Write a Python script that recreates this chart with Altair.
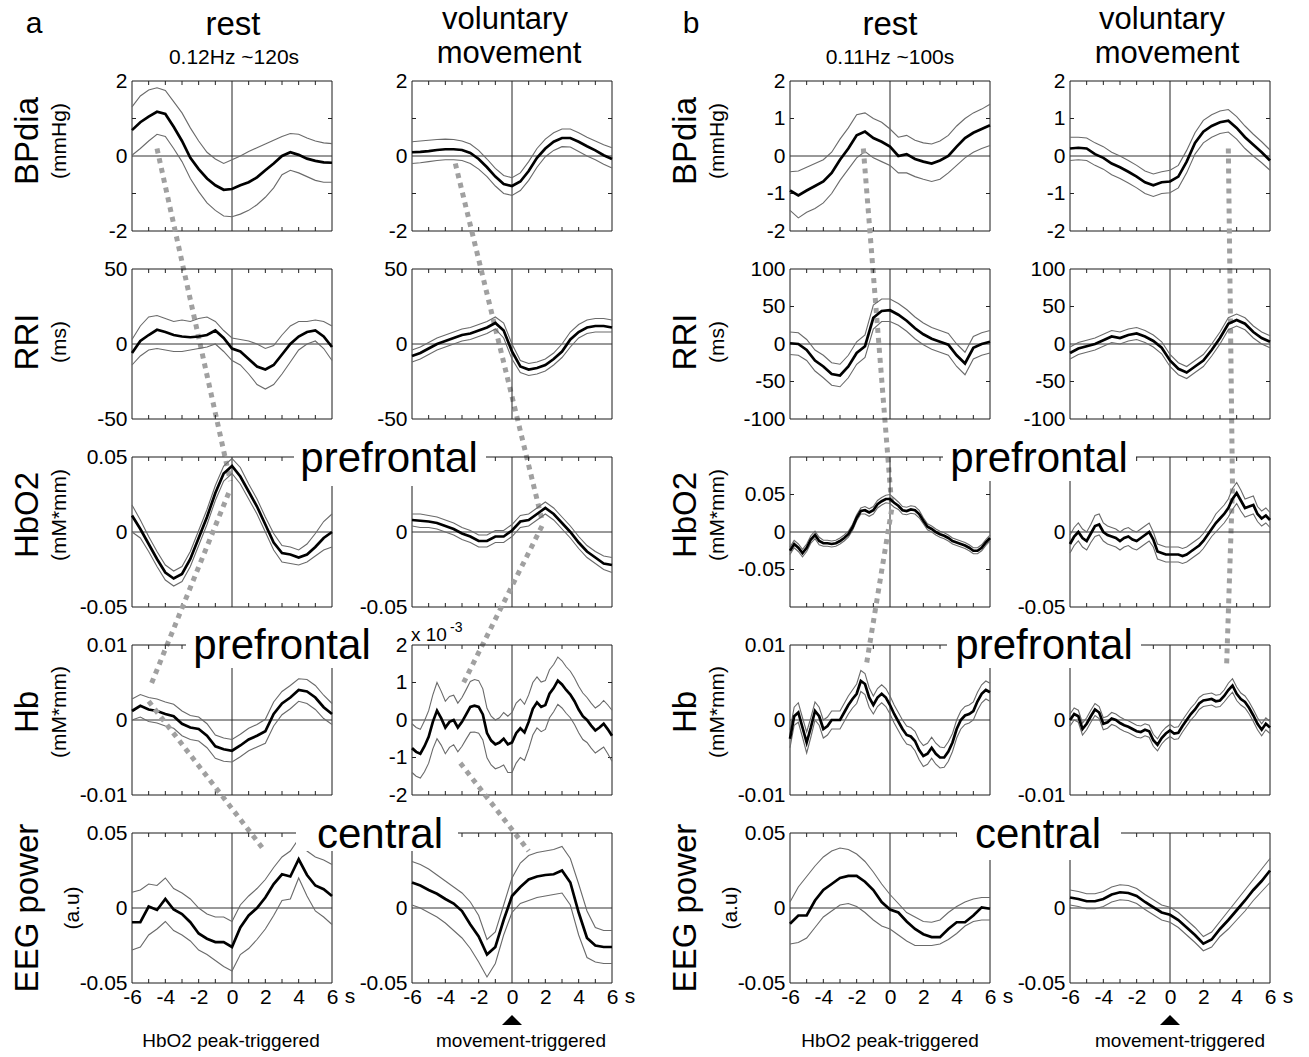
import altair as alt
import pandas as pd

FONT = "Liberation Sans"

# ---------------- time grids (s) ----------------
T25 = [-6, -5.5, -5, -4.5, -4, -3.5, -3, -2.5, -2, -1.5, -1, -0.5, 0,
       0.5, 1, 1.5, 2, 2.5, 3, 3.5, 4, 4.5, 5, 5.5, 6]
T49 = [-6, -5.75, -5.5, -5.25, -5, -4.75, -4.5, -4.25, -4, -3.75, -3.5, -3.25,
       -3, -2.75, -2.5, -2.25, -2, -1.75, -1.5, -1.25, -1, -0.75, -0.5, -0.25,
       0, 0.25, 0.5, 0.75, 1, 1.25, 1.5, 1.75, 2, 2.25, 2.5, 2.75, 3, 3.25,
       3.5, 3.75, 4, 4.25, 4.5, 4.75, 5, 5.25, 5.5, 5.75, 6]
X_LABELS = [-6, -4, -2, 0, 2, 4, 6]
X_TICKS = [-5, -4, -3, -2, -1, 1, 2, 3, 4, 5]

# ---------------- a : rest (HbO2 peak-triggered) ----------------
A_REST_BP_MEAN = [0.69, 0.9, 1.05, 1.18, 1.12, 0.78, 0.4, -0.05, -0.35, -0.6, -0.78, -0.9, -0.88,
                  -0.78, -0.7, -0.57, -0.38, -0.2, 0.0, 0.1, 0.03, -0.07, -0.13, -0.17, -0.18]
A_REST_BP_UP = [1.31, 1.6, 1.76, 1.82, 1.75, 1.45, 1.15, 0.75, 0.4, 0.1, -0.08, -0.2, -0.1,
                0.0, 0.12, 0.22, 0.32, 0.42, 0.52, 0.6, 0.58, 0.48, 0.4, 0.35, 0.33]
A_REST_BP_LO = [0.02, 0.2, 0.4, 0.58, 0.52, 0.2, -0.15, -0.6, -0.95, -1.25, -1.45, -1.6, -1.62,
                -1.55, -1.45, -1.3, -1.1, -0.85, -0.5, -0.38, -0.45, -0.55, -0.65, -0.7, -0.7]

A_REST_RRI_MEAN = [-6, 2, 6, 9.5, 8, 6, 5, 4.5, 5, 6, 9, 4, -3,
                   -5, -10, -15, -17, -14, -7, 0, 5, 8, 9, 5, -2]
A_REST_RRI_UP = [3, 12, 18, 19, 17, 15, 16, 15, 17, 18, 15, 9, 4,
                 3, 2, 0, -3, -1, 6, 12, 15, 15, 16, 15, 12]
A_REST_RRI_LO = [-14, -8, -4, -3, -4, -5, -5, -4, -3, -2, 0, -5, -11,
                 -14, -20, -27, -30, -27, -20, -12, -4, 0, 2, -3, -11]

A_REST_HBO2_MEAN = [0.011, 0.002, -0.008, -0.018, -0.027, -0.031, -0.028, -0.018, -0.004, 0.01, 0.026, 0.039, 0.044,
                    0.037, 0.027, 0.017, 0.005, -0.007, -0.014, -0.015, -0.017, -0.015, -0.01, -0.004, 0.0]
A_REST_HBO2_UP = [0.018, 0.008, -0.003, -0.013, -0.022, -0.026, -0.023, -0.013, 0.001, 0.015, 0.031, 0.044, 0.049,
                  0.043, 0.032, 0.022, 0.010, -0.001, -0.009, -0.010, -0.012, -0.008, -0.001, 0.007, 0.012]
A_REST_HBO2_LO = [0.0, -0.004, -0.013, -0.023, -0.032, -0.036, -0.033, -0.023, -0.009, 0.005, 0.021, 0.034, 0.039,
                  0.032, 0.022, 0.012, 0.0, -0.012, -0.020, -0.021, -0.022, -0.020, -0.016, -0.012, -0.010]

A_REST_HB_MEAN = [0.0012, 0.0019, 0.0014, 0.0012, 0.0008, 0.0005, -0.0005, -0.001, -0.0012, -0.0021, -0.0035, -0.0039, -0.0041,
                  -0.0034, -0.0026, -0.0021, -0.0015, 0.0008, 0.0022, 0.003, 0.004, 0.0038, 0.003, 0.0017, 0.0008]
A_REST_HB_UP = [0.0028, 0.0034, 0.003, 0.0028, 0.0024, 0.0021, 0.0012, 0.0006, 0.0004, -0.0005, -0.002, -0.0024, -0.0026,
                -0.0019, -0.0011, -0.0006, 0.0001, 0.0024, 0.0038, 0.0046, 0.0055, 0.0054, 0.0046, 0.0033, 0.0022]
A_REST_HB_LO = [0.0, 0.0004, -0.0002, -0.0004, -0.0008, -0.0011, -0.0021, -0.0026, -0.0028, -0.0037, -0.0051, -0.0055, -0.0056,
                -0.0049, -0.0041, -0.0036, -0.0031, -0.0008, 0.0007, 0.0015, 0.0025, 0.0022, 0.0014, 0.0002, -0.0006]

A_REST_EEG_MEAN = [-0.0095, -0.0095, 0.001, -0.0013, 0.006, -0.001, -0.004, -0.0095, -0.017, -0.0205, -0.0227, -0.0227, -0.026,
                   -0.013, -0.005, 0.0, 0.007, 0.016, 0.0225, 0.021, 0.0325, 0.022, 0.015, 0.0125, 0.008]
A_REST_EEG_UP = [0.0105, 0.012, 0.016, 0.015, 0.02, 0.013, 0.01, 0.006, 0.0, -0.004, -0.006, -0.006, -0.009,
                 0.002, 0.008, 0.013, 0.019, 0.027, 0.034, 0.038, 0.046, 0.038, 0.034, 0.032, 0.029]
A_REST_EEG_LO = [-0.028, -0.026, -0.018, -0.014, -0.009, -0.015, -0.018, -0.022, -0.028, -0.031, -0.035, -0.039, -0.042,
                 -0.031, -0.027, -0.021, -0.014, -0.005, 0.005, 0.006, 0.02, 0.008, -0.002, -0.006, -0.011]

# ---------------- a : voluntary movement ----------------
A_VOL_BP_MEAN = [0.1, 0.11, 0.13, 0.16, 0.18, 0.18, 0.16, 0.08, -0.08, -0.3, -0.55, -0.75, -0.8,
                 -0.68, -0.4, -0.05, 0.2, 0.38, 0.48, 0.48, 0.38, 0.26, 0.15, 0.02, -0.08]
A_VOL_BP_UP = [0.38, 0.4, 0.42, 0.44, 0.45, 0.44, 0.4, 0.32, 0.15, -0.08, -0.33, -0.52, -0.58,
               -0.45, -0.15, 0.2, 0.45, 0.62, 0.72, 0.72, 0.62, 0.5, 0.4, 0.3, 0.22]
A_VOL_BP_LO = [-0.2, -0.18, -0.15, -0.12, -0.1, -0.1, -0.12, -0.2, -0.35, -0.55, -0.8, -1.0, -1.05,
               -0.92, -0.65, -0.3, -0.02, 0.15, 0.25, 0.24, 0.12, 0.0, -0.1, -0.22, -0.32]

A_VOL_RRI_MEAN = [-8, -6, -3, 0, 2, 4, 6, 7, 9, 11, 14, 9, -5,
                  -15, -17, -16, -14, -10, -5, 3, 8, 11, 12, 12, 11]
A_VOL_RRI_UP = [-4, -2, 1, 4, 6, 8, 10, 11, 13, 15, 18, 14, 0,
                -11, -13, -12, -10, -6, 0, 8, 13, 16, 17, 17, 16]
A_VOL_RRI_LO = [-12, -10, -7, -4, -2, 0, 2, 3, 5, 7, 10, 4, -10,
                -19, -21, -20, -18, -14, -9, -2, 4, 7, 8, 8, 8]

A_VOL_HBO2_MEAN = [0.008, 0.0075, 0.007, 0.006, 0.004, 0.002, -0.001, -0.003, -0.006, -0.006, -0.003, -0.003, 0.001,
                   0.007, 0.008, 0.012, 0.016, 0.012, 0.006, 0.0, -0.007, -0.013, -0.017, -0.021, -0.022]
A_VOL_HBO2_UP = [0.012, 0.012, 0.011, 0.010, 0.008, 0.006, 0.003, 0.001, -0.002, -0.002, 0.001, 0.001, 0.005,
                 0.011, 0.012, 0.016, 0.020, 0.016, 0.010, 0.004, -0.003, -0.009, -0.013, -0.016, -0.017]
A_VOL_HBO2_LO = [0.004, 0.003, 0.003, 0.002, 0.0, -0.002, -0.005, -0.007, -0.010, -0.010, -0.007, -0.007, -0.003,
                 0.003, 0.004, 0.008, 0.012, 0.008, 0.002, -0.004, -0.011, -0.017, -0.021, -0.025, -0.027]

A_VOL_HB_MEAN = [-0.75, -0.85, -0.9, -0.7, -0.45, -0.05, 0.25, 0.05, -0.2, -0.05, 0.0, -0.2, -0.05, 0.15, 0.35,
                 0.38, 0.35, 0.15, -0.35, -0.55, -0.65, -0.6, -0.5, -0.65, -0.6, -0.35, -0.22, -0.33, -0.05,
                 0.3, 0.47, 0.35, 0.4, 0.7, 0.85, 1.05, 0.95, 0.8, 0.68, 0.5, 0.28, 0.1, 0.0, -0.15, -0.28,
                 -0.2, -0.1, -0.25, -0.42]
A_VOL_HB_SE = [0.65, 0.65, 0.65, 0.68, 0.7, 0.72, 0.75, 0.72, 0.7, 0.68, 0.66, 0.65, 0.65, 0.66, 0.68, 0.7,
               0.7, 0.68, 0.66, 0.65, 0.65, 0.66, 0.7, 0.75, 0.8, 0.8, 0.78, 0.75, 0.72, 0.7, 0.68, 0.66,
               0.65, 0.64, 0.63, 0.63, 0.63, 0.62, 0.62, 0.62, 0.62, 0.62, 0.6, 0.6, 0.6, 0.6, 0.62, 0.65, 0.68]

A_VOL_EEG_MEAN = [0.017, 0.015, 0.012, 0.0095, 0.006, 0.003, -0.002, -0.011, -0.019, -0.031, -0.026, -0.008, 0.008,
                  0.014, 0.019, 0.021, 0.022, 0.0225, 0.025, 0.017, -0.003, -0.02, -0.025, -0.026, -0.026]
A_VOL_EEG_UP = [0.031, 0.029, 0.026, 0.022, 0.018, 0.014, 0.01, 0.004, -0.005, -0.021, -0.016, 0.002, 0.02,
                0.03, 0.035, 0.037, 0.038, 0.039, 0.041, 0.033, 0.016, -0.002, -0.013, -0.015, -0.015]
A_VOL_EEG_LO = [0.002, 0.0, -0.003, -0.006, -0.01, -0.015, -0.02, -0.027, -0.036, -0.046, -0.037, -0.018, -0.003,
                0.003, 0.005, 0.007, 0.008, 0.009, 0.01, 0.002, -0.018, -0.033, -0.036, -0.037, -0.037]

# ---------------- b : rest (HbO2 peak-triggered) ----------------
B_REST_BP_MEAN = [-0.92, -1.05, -0.92, -0.8, -0.68, -0.45, -0.1, 0.2, 0.55, 0.65, 0.48, 0.38, 0.25,
                  0.0, 0.05, -0.08, -0.15, -0.2, -0.12, 0.0, 0.25, 0.48, 0.62, 0.72, 0.82]
B_REST_BP_UP = [-0.42, -0.4, -0.3, -0.2, -0.1, 0.1, 0.45, 0.75, 1.1, 1.15, 1.0, 0.9, 0.72,
                0.5, 0.55, 0.42, 0.35, 0.32, 0.4, 0.55, 0.8, 1.0, 1.15, 1.25, 1.38]
B_REST_BP_LO = [-1.45, -1.65, -1.5, -1.4, -1.25, -1.0, -0.65, -0.35, -0.05, 0.12, -0.05, -0.15, -0.25,
                -0.45, -0.45, -0.55, -0.62, -0.68, -0.62, -0.45, -0.25, -0.05, 0.1, 0.2, 0.28]

B_REST_RRI_MEAN = [1, 0, -8, -22, -30, -40, -42, -30, -12, -3, 35, 44, 45,
                   39, 31, 21, 13, 7, 3, -1, -15, -26, -5, 0, 3]
B_REST_RRI_UP = [16, 15, 6, -8, -15, -25, -27, -15, 3, 12, 52, 60, 60,
                 54, 46, 36, 28, 22, 18, 14, 0, -11, 10, 15, 18]
B_REST_RRI_LO = [-14, -15, -22, -36, -45, -55, -57, -45, -27, -18, 20, 30, 30,
                 25, 17, 7, -1, -7, -11, -15, -30, -41, -20, -15, -12]

B_REST_HBO2_MEAN = [-0.025, -0.016, -0.021, -0.028, -0.021, -0.010, -0.004, -0.012, -0.015, -0.015, -0.016, -0.015,
                    -0.012, -0.008, -0.003, 0.006, 0.019, 0.028, 0.029, 0.026, 0.029, 0.037, 0.041, 0.044, 0.044,
                    0.039, 0.035, 0.029, 0.028, 0.030, 0.029, 0.024, 0.015, 0.007, 0.004, 0.0, -0.003, -0.005,
                    -0.008, -0.012, -0.014, -0.016, -0.018, -0.021, -0.025, -0.025, -0.021, -0.014, -0.008]
B_REST_HBO2_SE = [0.005, 0.005, 0.005, 0.005, 0.005, 0.005, 0.005, 0.005, 0.004, 0.004, 0.004, 0.004, 0.004,
                  0.004, 0.004, 0.004, 0.004, 0.004, 0.005, 0.005, 0.005, 0.005, 0.005, 0.005, 0.006, 0.006,
                  0.005, 0.005, 0.005, 0.005, 0.005, 0.005, 0.004, 0.004, 0.004, 0.004, 0.004, 0.004, 0.004,
                  0.004, 0.004, 0.004, 0.004, 0.004, 0.004, 0.004, 0.004, 0.004, 0.004]

B_REST_HB_MEAN = [-0.0025, 0.0005, 0.001, -0.001, -0.003, -0.001, 0.0012, 0.0005, -0.0012, -0.0008, 0.0, 0.0,
                  0.0, 0.001, 0.002, 0.0028, 0.0035, 0.0052, 0.0048, 0.003, 0.002, 0.003, 0.0035, 0.003, 0.002,
                  0.0008, -0.0002, -0.0012, -0.002, -0.0022, -0.0028, -0.004, -0.0048, -0.0045, -0.0037, -0.0045,
                  -0.005, -0.005, -0.0042, -0.003, -0.0012, 0.0, 0.0006, 0.0008, 0.0012, 0.0025, 0.0035, 0.004, 0.0037]
B_REST_HB_SE = [0.0012, 0.0012, 0.0013, 0.0013, 0.0014, 0.0013, 0.0012, 0.0012, 0.0012, 0.0012, 0.0012, 0.0012,
                0.0012, 0.0012, 0.0012, 0.0012, 0.0013, 0.0014, 0.0014, 0.0013, 0.0012, 0.0012, 0.0012, 0.0012,
                0.0012, 0.0012, 0.0012, 0.0012, 0.0012, 0.0012, 0.0013, 0.0013, 0.0014, 0.0014, 0.0014, 0.0014,
                0.0014, 0.0013, 0.0013, 0.0012, 0.0012, 0.0012, 0.0012, 0.0012, 0.0012, 0.0012, 0.0012, 0.0012, 0.0012]

B_REST_EEG_MEAN = [-0.0105, -0.005, -0.005, 0.005, 0.012, 0.016, 0.02, 0.0214, 0.0214, 0.0175, 0.012, 0.004, -0.001,
                   -0.003, -0.009, -0.014, -0.0175, -0.0194, -0.0194, -0.014, -0.0095, -0.0095, -0.005, 0.0004, -0.0005]
B_REST_EEG_UP = [0.004, 0.014, 0.021, 0.028, 0.034, 0.038, 0.04, 0.039, 0.036, 0.031, 0.024, 0.016, 0.009,
                 0.003, -0.003, -0.006, -0.009, -0.0095, -0.008, -0.003, 0.001, 0.004, 0.006, 0.007, 0.007]
B_REST_EEG_LO = [-0.024, -0.023, -0.02, -0.013, -0.006, -0.002, 0.002, 0.003, 0.001, -0.003, -0.008, -0.012, -0.014,
                 -0.018, -0.022, -0.025, -0.025, -0.025, -0.024, -0.021, -0.017, -0.012, -0.009, -0.008, -0.008]

# ---------------- b : voluntary movement ----------------
B_VOL_BP_MEAN = [0.2, 0.22, 0.2, 0.05, -0.05, -0.2, -0.3, -0.42, -0.55, -0.7, -0.78, -0.7, -0.68,
                 -0.55, -0.15, 0.35, 0.65, 0.8, 0.9, 0.94, 0.75, 0.5, 0.3, 0.1, -0.12]
B_VOL_BP_UP = [0.5, 0.5, 0.48, 0.35, 0.25, 0.1, 0.0, -0.12, -0.25, -0.4, -0.48, -0.42, -0.38,
               -0.25, 0.15, 0.62, 0.95, 1.1, 1.2, 1.24, 1.05, 0.8, 0.58, 0.38, 0.16]
B_VOL_BP_LO = [-0.12, -0.1, -0.12, -0.25, -0.35, -0.5, -0.6, -0.72, -0.85, -1.0, -1.08, -1.0, -0.98,
               -0.85, -0.45, 0.05, 0.35, 0.5, 0.6, 0.64, 0.45, 0.2, 0.0, -0.18, -0.38]

B_VOL_RRI_MEAN = [-12, -6, -3, 0, 5, 10, 8, 12, 14, 10, 4, -5, -22,
                  -33, -38, -30, -22, -8, 8, 27, 32, 27, 16, 8, 3]
B_VOL_RRI_UP = [-4, 2, 5, 8, 13, 18, 16, 20, 22, 18, 12, 3, -14,
                -25, -30, -22, -14, 0, 16, 35, 40, 35, 24, 16, 11]
B_VOL_RRI_LO = [-20, -14, -11, -8, -3, 2, 0, 4, 6, 2, -4, -13, -30,
                -41, -46, -38, -30, -16, 0, 19, 24, 19, 8, 0, -5]

B_VOL_HBO2_MEAN = [-0.008, -0.003, 0.0, -0.004, -0.006, -0.001, 0.004, 0.005, 0.0, -0.002, -0.003, -0.004,
                   -0.006, -0.004, -0.003, -0.005, -0.006, -0.004, -0.002, 0.0, -0.005, -0.013, -0.014, -0.015,
                   -0.015, -0.015, -0.015, -0.016, -0.015, -0.013, -0.011, -0.009, -0.006, -0.002, 0.002, 0.006,
                   0.009, 0.012, 0.016, 0.022, 0.026, 0.021, 0.016, 0.017, 0.018, 0.012, 0.009, 0.011, 0.008]
B_VOL_HBO2_SE = [0.006, 0.006, 0.006, 0.006, 0.006, 0.006, 0.007, 0.007, 0.006, 0.006, 0.006, 0.006, 0.006,
                 0.006, 0.006, 0.006, 0.006, 0.006, 0.006, 0.006, 0.005, 0.005, 0.005, 0.005, 0.005, 0.005,
                 0.005, 0.005, 0.005, 0.005, 0.005, 0.005, 0.005, 0.005, 0.005, 0.006, 0.006, 0.006, 0.006,
                 0.007, 0.007, 0.007, 0.006, 0.006, 0.006, 0.005, 0.005, 0.005, 0.005]

B_VOL_HB_MEAN = [0.0, 0.0008, 0.0005, -0.0012, -0.0005, 0.0005, 0.0014, 0.001, -0.0005, -0.0003, 0.0002, 0.0,
                 -0.0004, -0.0007, -0.0009, -0.0012, -0.0015, -0.0016, -0.0013, -0.0015, -0.0027, -0.0033,
                 -0.0024, -0.0018, -0.0014, -0.0018, -0.0017, -0.0008, 0.0, 0.0008, 0.0014, 0.0022, 0.0026,
                 0.0027, 0.0028, 0.0025, 0.0026, 0.0032, 0.004, 0.0046, 0.0035, 0.0028, 0.0024, 0.0016, 0.0006,
                 -0.0005, -0.0013, -0.0005, -0.001]
B_VOL_HB_SE = [0.0008, 0.0008, 0.0008, 0.0008, 0.0008, 0.0008, 0.0008, 0.0008, 0.0008, 0.0008, 0.0008, 0.0008,
               0.0008, 0.0008, 0.0008, 0.0008, 0.0008, 0.0008, 0.0008, 0.0008, 0.0008, 0.0008, 0.0008, 0.0008,
               0.0008, 0.0008, 0.0008, 0.0008, 0.0008, 0.0008, 0.0008, 0.0008, 0.0008, 0.0008, 0.0008, 0.0008,
               0.0008, 0.0008, 0.0009, 0.0009, 0.0009, 0.0008, 0.0008, 0.0008, 0.0008, 0.0008, 0.0008, 0.0008, 0.0008]

B_VOL_EEG_MEAN = [0.007, 0.006, 0.0045, 0.0045, 0.006, 0.009, 0.0105, 0.01, 0.008, 0.004, 0.0005, -0.003, -0.0045,
                  -0.008, -0.013, -0.018, -0.0238, -0.021, -0.014, -0.008, -0.0015, 0.005, 0.012, 0.018, 0.025]
B_VOL_EEG_UP = [0.012, 0.011, 0.0095, 0.0095, 0.011, 0.014, 0.0155, 0.015, 0.013, 0.009, 0.0055, 0.002, 0.0005,
                -0.003, -0.008, -0.013, -0.019, -0.016, -0.009, -0.002, 0.005, 0.012, 0.019, 0.026, 0.033]
B_VOL_EEG_LO = [0.002, 0.001, -0.0005, -0.0005, 0.001, 0.004, 0.0055, 0.005, 0.003, -0.001, -0.0045, -0.008, -0.0095,
                -0.013, -0.018, -0.023, -0.0285, -0.026, -0.019, -0.014, -0.008, -0.002, 0.005, 0.011, 0.017]

# ---------------- axes set-up per row / column ----------------
Y_DOMAINS = {
    (0, 0): [-2, 2], (1, 0): [-2, 2], (2, 0): [-2, 2], (3, 0): [-2, 2],
    (0, 1): [-50, 50], (1, 1): [-50, 50], (2, 1): [-100, 100], (3, 1): [-100, 100],
    (0, 2): [-0.05, 0.05], (1, 2): [-0.05, 0.05], (2, 2): [-0.1, 0.1], (3, 2): [-0.05, 0.05],
    (0, 3): [-0.01, 0.01], (1, 3): [-2, 2], (2, 3): [-0.01, 0.01], (3, 3): [-0.01, 0.01],
    (0, 4): [-0.05, 0.05], (1, 4): [-0.05, 0.05], (2, 4): [-0.05, 0.05], (3, 4): [-0.05, 0.05],
}
Y_LABELS = {
    (0, 0): [-2, 0, 2], (1, 0): [-2, 0, 2], (2, 0): [-2, -1, 0, 1, 2], (3, 0): [-2, -1, 0, 1, 2],
    (0, 1): [-50, 0, 50], (1, 1): [-50, 0, 50], (2, 1): [-100, -50, 0, 50, 100], (3, 1): [-100, -50, 0, 50, 100],
    (0, 2): [-0.05, 0, 0.05], (1, 2): [-0.05, 0], (2, 2): [-0.05, 0, 0.05], (3, 2): [-0.05, 0],
    (0, 3): [-0.01, 0, 0.01], (1, 3): [-2, -1, 0, 1, 2], (2, 3): [-0.01, 0, 0.01], (3, 3): [-0.01, 0],
    (0, 4): [-0.05, 0, 0.05], (1, 4): [-0.05, 0], (2, 4): [-0.05, 0, 0.05], (3, 4): [-0.05, 0],
}
Y_TICKS = {
    (0, 0): [-1, 1], (1, 0): [-1, 1], (2, 0): [-1, 1], (3, 0): [-1, 1],
    (2, 1): [-50, 50], (3, 1): [-50, 50], (2, 2): [-0.05, 0.05], (1, 3): [-1, 1],
}


def band(mean, se, sign):
    return [m + sign * s for m, s in zip(mean, se)]


CURVES = {
    (0, 0): (T25, A_REST_BP_MEAN, A_REST_BP_UP, A_REST_BP_LO),
    (0, 1): (T25, A_REST_RRI_MEAN, A_REST_RRI_UP, A_REST_RRI_LO),
    (0, 2): (T25, A_REST_HBO2_MEAN, A_REST_HBO2_UP, A_REST_HBO2_LO),
    (0, 3): (T25, A_REST_HB_MEAN, A_REST_HB_UP, A_REST_HB_LO),
    (0, 4): (T25, A_REST_EEG_MEAN, A_REST_EEG_UP, A_REST_EEG_LO),
    (1, 0): (T25, A_VOL_BP_MEAN, A_VOL_BP_UP, A_VOL_BP_LO),
    (1, 1): (T25, A_VOL_RRI_MEAN, A_VOL_RRI_UP, A_VOL_RRI_LO),
    (1, 2): (T25, A_VOL_HBO2_MEAN, A_VOL_HBO2_UP, A_VOL_HBO2_LO),
    (1, 3): (T49, A_VOL_HB_MEAN, band(A_VOL_HB_MEAN, A_VOL_HB_SE, 1), band(A_VOL_HB_MEAN, A_VOL_HB_SE, -1)),
    (1, 4): (T25, A_VOL_EEG_MEAN, A_VOL_EEG_UP, A_VOL_EEG_LO),
    (2, 0): (T25, B_REST_BP_MEAN, B_REST_BP_UP, B_REST_BP_LO),
    (2, 1): (T25, B_REST_RRI_MEAN, B_REST_RRI_UP, B_REST_RRI_LO),
    (2, 2): (T49, B_REST_HBO2_MEAN, band(B_REST_HBO2_MEAN, B_REST_HBO2_SE, 1),
             band(B_REST_HBO2_MEAN, B_REST_HBO2_SE, -1)),
    (2, 3): (T49, B_REST_HB_MEAN, band(B_REST_HB_MEAN, B_REST_HB_SE, 1), band(B_REST_HB_MEAN, B_REST_HB_SE, -1)),
    (2, 4): (T25, B_REST_EEG_MEAN, B_REST_EEG_UP, B_REST_EEG_LO),
    (3, 0): (T25, B_VOL_BP_MEAN, B_VOL_BP_UP, B_VOL_BP_LO),
    (3, 1): (T25, B_VOL_RRI_MEAN, B_VOL_RRI_UP, B_VOL_RRI_LO),
    (3, 2): (T49, B_VOL_HBO2_MEAN, band(B_VOL_HBO2_MEAN, B_VOL_HBO2_SE, 1),
             band(B_VOL_HBO2_MEAN, B_VOL_HBO2_SE, -1)),
    (3, 3): (T49, B_VOL_HB_MEAN, band(B_VOL_HB_MEAN, B_VOL_HB_SE, 1), band(B_VOL_HB_MEAN, B_VOL_HB_SE, -1)),
    (3, 4): (T25, B_VOL_EEG_MEAN, B_VOL_EEG_UP, B_VOL_EEG_LO),
}

# dashed connector segments: column -> list of segments of (row, time, value in that row's units)
CONNECTORS = {
    0: [[(0, -4.5, 0.2), (2, -0.1, 0.034)],
        [(2, -0.2, 0.026), (3, -4.9, 0.0045)],
        [(3, -5.0, 0.0025), (4, 1.9, 0.039)]],
    1: [[(0, -3.4, -0.2), (2, 1.8, 0.008)],
        [(2, 1.8, 0.004), (3, -2.9, 1.0)],
        [(3, -3.1, -1.15), (4, 1.0, 0.038)]],
    2: [[(0, -1.6, 0.2), (2, 0.1, 0.036)],
        [(2, 0.1, 0.03), (3, -1.4, 0.0076)]],
    3: [[(0, 3.5, 0.2), (2, 3.75, 0.03), (3, 3.4, 0.0075)]],
}

# ---------------- layout constants ----------------
W, H = 200, 150
VSP = 38
HSP = 80
SPACER_W = 18
LEFT0, TOP0 = 132, 81
COL_X = [LEFT0, LEFT0 + W + HSP, LEFT0 + 2 * W + 3 * HSP + SPACER_W, LEFT0 + 3 * W + 4 * HSP + SPACER_W]
ROW_Y = [TOP0 + r * (H + VSP) for r in range(5)]

# annotations: (col, row, text, abs_x, abs_y, size, angle, align, baseline)
TEXTS = [
    (0, 0, "a", 34, 33, 30, 0, "center", "alphabetic"),
    (0, 0, "rest", 233, 35, 33, 0, "center", "alphabetic"),
    (0, 0, "0.12Hz ~120s", 234, 64, 21, 0, "center", "alphabetic"),
    (1, 0, "voluntary", 505, 29, 31, 0, "center", "alphabetic"),
    (1, 0, "movement", 509, 63, 31, 0, "center", "alphabetic"),
    (2, 0, "b", 691, 33, 30, 0, "center", "alphabetic"),
    (2, 0, "rest", 890, 35, 33, 0, "center", "alphabetic"),
    (2, 0, "0.11Hz ~100s", 890, 64, 21, 0, "center", "alphabetic"),
    (3, 0, "voluntary", 1162, 29, 31, 0, "center", "alphabetic"),
    (3, 0, "movement", 1167, 63, 31, 0, "center", "alphabetic"),
]
YTITLES = [("BPdia", "(mmHg)", 141, 60), ("RRI", "(ms)", 342, 60), ("HbO2", "(mM*mm)", 515, 60),
           ("Hb", "(mM*mm)", 712, 60), ("EEG power", "(a.u)", 908, 73)]
for r, (big, small, cy, ux) in enumerate(YTITLES):
    for c, off in ((0, 0), (2, COL_X[2] - COL_X[0])):
        TEXTS.append((c, r, big, 28 + off, cy, 33, 270, "center", "middle"))
        TEXTS.append((c, r, small, ux + off, cy, 21, 270, "center", "middle"))
TEXTS += [
    (0, 4, "HbO2 peak-triggered", 231, 1047, 19, 0, "center", "alphabetic"),
    (1, 4, "movement-triggered", 521, 1047, 19, 0, "center", "alphabetic"),
    (2, 4, "HbO2 peak-triggered", 890, 1047, 19, 0, "center", "alphabetic"),
    (3, 4, "movement-triggered", 1180, 1047, 19, 0, "center", "alphabetic"),
    (1, 3, "x 10", 411, 641, 19, 0, "left", "alphabetic"),
    (1, 3, "-3", 450, 632, 14, 0, "left", "alphabetic"),
]
# region labels with white boxes: (col,row, text, cx, baseline, x1, y1, x2, y2)
REGIONS = [
    (1, 2, "prefrontal", 389, 472, 294, 438, 486, 486),
    (3, 2, "prefrontal", 1039, 472, 943, 438, 1136, 481),
    (0, 3, "prefrontal", 282, 659, 186, 624, 378, 668),
    (3, 3, "prefrontal", 1044, 659, 947, 624, 1141, 668),
    (1, 4, "central", 380, 848, 296, 810, 458, 851),
    (3, 4, "central", 1038, 848, 957, 810, 1121, 860),
]

ONE = pd.DataFrame({"k": [0]})


def to_units(col, r0, r, v):
    d = Y_DOMAINS[(col, r)]
    p_abs = r * (H + VSP) + (d[1] - v) / (d[1] - d[0]) * H
    d0 = Y_DOMAINS[(col, r0)]
    rel = p_abs - r0 * (H + VSP)
    return d0[1] - rel / H * (d0[1] - d0[0])


def panel(c, r):
    ox, oy = COL_X[c], ROW_Y[r]
    dom = Y_DOMAINS[(c, r)]
    xs = alt.Scale(domain=[-6, 6], nice=False, zero=False)
    ys = alt.Scale(domain=dom, nice=False, zero=False)
    if r == 4:
        xax = alt.Axis(values=X_LABELS, labelExpr="'' + datum.value", title=None, ticks=False, tickSize=0,
                       domain=False, grid=False, labelPadding=3, labelFontSize=21, labelFont=FONT,
                       labelColor="black", labelFlush=False, labelOverlap=False, labelBound=False)
    else:
        xax = None
    yax = alt.Axis(values=Y_LABELS[(c, r)], labelExpr="'' + datum.value", title=None, ticks=False, tickSize=0,
                   domain=False, grid=False, labelPadding=5, labelFontSize=21, labelFont=FONT,
                   labelColor="black", labelOverlap=False, labelBound=False)
    X = lambda f: alt.X(f, scale=xs, axis=xax)
    Y = lambda f: alt.Y(f, scale=ys, axis=yax)

    layers = []
    # frame
    layers.append(alt.Chart(ONE).mark_rect(filled=False, stroke="#1a1a1a", strokeWidth=1).encode(
        x=alt.value(0), x2=alt.value(W), y=alt.value(0), y2=alt.value(H)))
    # zero lines
    layers.append(alt.Chart(pd.DataFrame({"v": [0]})).mark_rule(color="#333333", strokeWidth=1).encode(y=Y("v:Q")))
    layers.append(alt.Chart(pd.DataFrame({"t": [0]})).mark_rule(color="#222222", strokeWidth=1).encode(x=X("t:Q")))
    # inward ticks
    xt = pd.DataFrame({"t": X_TICKS})
    layers.append(alt.Chart(xt).mark_rule(color="#222222", strokeWidth=1).encode(
        x=X("t:Q"), y=alt.value(H), y2=alt.value(H - 4)))
    layers.append(alt.Chart(xt).mark_rule(color="#222222", strokeWidth=1).encode(
        x=X("t:Q"), y=alt.value(0), y2=alt.value(4)))
    if Y_TICKS.get((c, r)):
        yt = pd.DataFrame({"v": Y_TICKS[(c, r)]})
        layers.append(alt.Chart(yt).mark_rule(color="#222222", strokeWidth=1).encode(
            y=Y("v:Q"), x=alt.value(0), x2=alt.value(4)))
        layers.append(alt.Chart(yt).mark_rule(color="#222222", strokeWidth=1).encode(
            y=Y("v:Q"), x=alt.value(W - 4), x2=alt.value(W)))
    # curves
    t, mean, up, lo = CURVES[(c, r)]
    se = pd.DataFrame({"t": list(t) * 2, "v": list(up) + list(lo), "s": ["up"] * len(t) + ["lo"] * len(t)})
    layers.append(alt.Chart(se).mark_line(color="#6a6a6a", strokeWidth=1.1).encode(
        x=X("t:Q"), y=Y("v:Q"), detail="s:N"))
    layers.append(alt.Chart(pd.DataFrame({"t": t, "v": mean})).mark_line(color="black", strokeWidth=2.7).encode(
        x=X("t:Q"), y=Y("v:Q")))
    # dashed connectors starting in this panel
    rows = []
    for si, seg in enumerate(CONNECTORS.get(c, [])):
        if seg[0][0] != r:
            continue
        for i, (rr, tt, vv) in enumerate(seg):
            rows.append({"t": tt, "v": to_units(c, r, rr, vv), "seg": si, "i": i})
    if rows:
        layers.append(alt.Chart(pd.DataFrame(rows)).mark_line(
            color="#a0a0a0", strokeWidth=5, strokeDash=[5, 5], strokeCap="butt").encode(
            x=X("t:Q"), y=Y("v:Q"), detail="seg:N", order="i:Q"))
    # bottom row extras
    if r == 4:
        layers.append(alt.Chart(ONE).mark_text(text="s", font=FONT, fontSize=21, align="center",
                                              baseline="top", color="black").encode(
            x=alt.value(W + 18), y=alt.value(H + 3)))
        if c in (1, 3):
            layers.append(alt.Chart(pd.DataFrame({"t": [0]})).mark_point(
                shape="M-1,0.5L1,0.5L0,-0.5Z", filled=True, color="black", size=400, opacity=1).encode(
                x=X("t:Q"), y=alt.value(1020 - oy)))
    # region label boxes
    for (rc, rr, txt, cx, by, x1, y1, x2, y2) in REGIONS:
        if (rc, rr) != (c, r):
            continue
        layers.append(alt.Chart(ONE).mark_rect(color="white").encode(
            x=alt.value(x1 - ox), x2=alt.value(x2 - ox), y=alt.value(y1 - oy), y2=alt.value(y2 - oy)))
        layers.append(alt.Chart(ONE).mark_text(text=txt, font=FONT, fontSize=42, align="center",
                                              baseline="alphabetic", color="black").encode(
            x=alt.value(cx - ox), y=alt.value(by - oy)))
    # other texts
    for (tc, tr, txt, ax, ay, size, ang, al, bl) in TEXTS:
        if (tc, tr) != (c, r):
            continue
        layers.append(alt.Chart(ONE).mark_text(text=txt, font=FONT, fontSize=size, angle=ang, align=al,
                                              baseline=bl, color="black").encode(
            x=alt.value(ax - ox), y=alt.value(ay - oy)))
    # page anchor
    if (c, r) == (0, 0):
        layers.append(alt.Chart(ONE).mark_rect(color="white").encode(
            x=alt.value(-ox), x2=alt.value(-ox + 1), y=alt.value(-oy), y2=alt.value(-oy + 1)))
    return alt.layer(*layers).properties(width=W, height=H)


def spacer():
    return alt.Chart(ONE).mark_point(opacity=0).encode(
        x=alt.value(0), y=alt.value(0)).properties(width=SPACER_W, height=H)


cells = []
for r in range(5):
    cells += [panel(0, r), panel(1, r), spacer(), panel(2, r), panel(3, r)]

chart = alt.concat(*cells, columns=5, spacing={"row": VSP, "column": HSP}, bounds="flush", align="each").properties(
    padding=0, background="white"
).configure_view(stroke=None)

chart.save("out.html", embed_options={"renderer": "svg", "actions": False})
